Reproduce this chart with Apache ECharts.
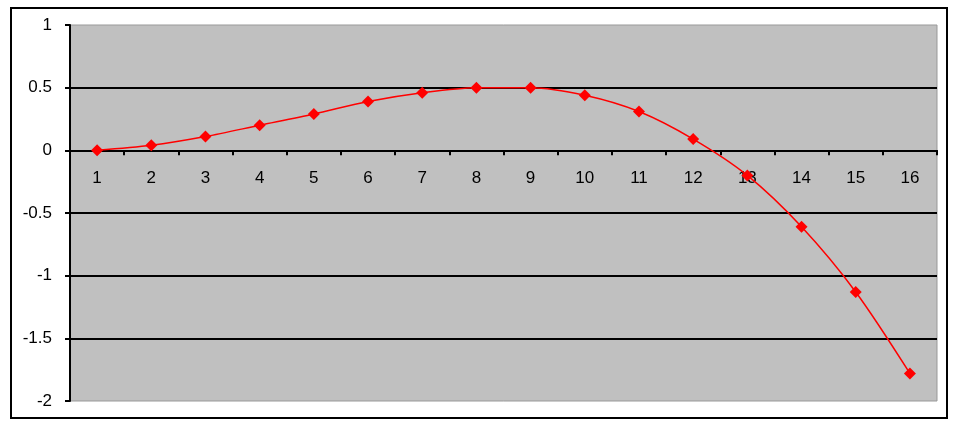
<!DOCTYPE html>
<html>
<head>
<meta charset="utf-8">
<script src="https://cdn.jsdelivr.net/npm/echarts@6/dist/echarts.min.js"></script>
<style>html,body{margin:0;padding:0;background:#fff}#c{width:968px;height:427px}</style>
</head>
<body>
<div id="c"></div>
<script>
const categories = ['1','2','3','4','5','6','7','8','9','10','11','12','13','14','15','16'];
const values = [0, 0.04, 0.11, 0.2, 0.29, 0.39, 0.46, 0.5, 0.5, 0.44, 0.31, 0.09, -0.2, -0.61, -1.13, -1.78];
const yTicks = { min: -2, max: 1, interval: 0.5 };

const gridTop = 25, gridBottom = 26, H = 427;
const plotH = H - gridTop - gridBottom;
const zeroOffset = -plotH * (0 - yTicks.min) / (yTicks.max - yTicks.min);

const chart = echarts.init(document.getElementById('c'), null, { renderer: 'canvas' });
chart.setOption({
  animation: false,
  backgroundColor: '#fff',
  graphic: [{
    type: 'rect',
    shape: { x: 11, y: 8, width: 936, height: 410 },
    style: { fill: 'none', stroke: '#000', lineWidth: 2 },
    z: 100
  }],
  grid: {
    left: 70, right: 31, top: gridTop, bottom: gridBottom,
    show: true, backgroundColor: '#C0C0C0', borderColor: '#999', borderWidth: 1
  },
  xAxis: {
    type: 'category',
    data: categories,
    boundaryGap: true,
    offset: zeroOffset,
    axisLine: { onZero: false, lineStyle: { color: '#000', width: 2 } },
    axisTick: { show: true, inside: false, length: 5, lineStyle: { color: '#000', width: 2 } },
    axisLabel: { color: '#000', fontFamily: 'Liberation Sans', fontSize: 17, margin: 19 },
    splitLine: { show: false }
  },
  yAxis: {
    type: 'value',
    min: yTicks.min, max: yTicks.max, interval: yTicks.interval,
    axisLine: { show: true, lineStyle: { color: '#000', width: 2 } },
    axisTick: { show: true, length: 5, lineStyle: { color: '#000', width: 2 } },
    axisLabel: { color: '#000', fontFamily: 'Liberation Sans', fontSize: 17, margin: 18 },
    splitLine: { show: true, showMinLine: false, showMaxLine: false, lineStyle: { color: '#000', width: 2 } }
  },
  series: [{
    type: 'line',
    data: values,
    smooth: 0.3,
    symbol: 'diamond',
    symbolSize: 12,
    itemStyle: { color: '#FF0000' },
    lineStyle: { color: '#FF0000', width: 1.5 },
    z: 5
  }]
});
</script>
</body>
</html>
